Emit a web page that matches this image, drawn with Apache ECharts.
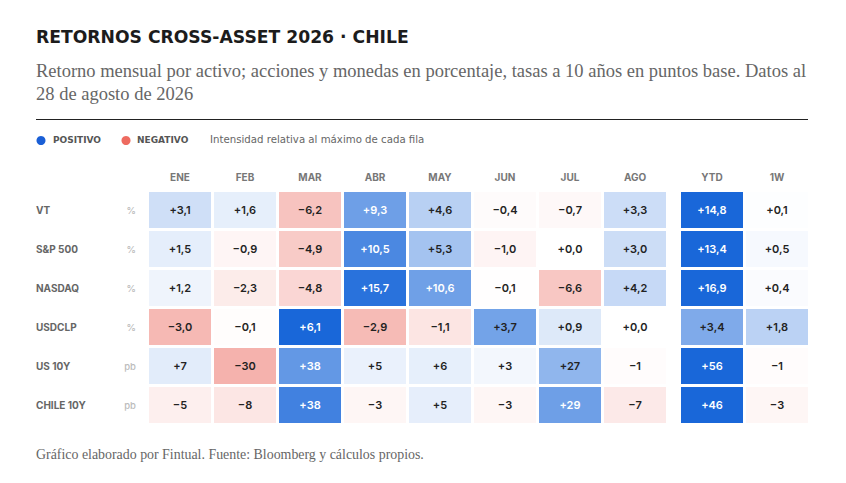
<!DOCTYPE html>
<html>
<head>
<meta charset="utf-8">
<script src="https://cdn.jsdelivr.net/npm/echarts@6/dist/echarts.min.js"></script>
<style>
  html, body { margin: 0; padding: 0; background: #fff; }
  #chart { width: 846px; height: 483px; }
</style>
</head>
<body>
<div id="chart"></div>
<script>
const months = ['ENE', 'FEB', 'MAR', 'ABR', 'MAY', 'JUN', 'JUL', 'AGO'];
const summaryCols = ['YTD', '1W'];
const assets = ['VT', 'S&P 500', 'NASDAQ', 'USDCLP', 'US 10Y', 'CHILE 10Y'];
const units = ['%', '%', '%', '%', 'pb', 'pb'];

// monthly values (ENE..AGO), then YTD and 1W
const vtMonthly = [3.1, 1.6, -6.2, 9.3, 4.6, -0.4, -0.7, 3.3];
const vtSummary = [14.8, 0.1];
const spMonthly = [1.5, -0.9, -4.9, 10.5, 5.3, -1.0, 0.0, 3.0];
const spSummary = [13.4, 0.5];
const nasdaqMonthly = [1.2, -2.3, -4.8, 15.7, 10.6, -0.1, -6.6, 4.2];
const nasdaqSummary = [16.9, 0.4];
const usdclpMonthly = [-3.0, -0.1, 6.1, -2.9, -1.1, 3.7, 0.9, 0.0];
const usdclpSummary = [3.4, 1.8];
const us10yMonthly = [7, -30, 38, 5, 6, 3, 27, -1];
const us10ySummary = [56, -1];
const chile10yMonthly = [-5, -8, 38, -3, 5, -3, 29, -7];
const chile10ySummary = [46, -3];

const monthlyRows = [vtMonthly, spMonthly, nasdaqMonthly, usdclpMonthly, us10yMonthly, chile10yMonthly];
const summaryRows = [vtSummary, spSummary, nasdaqSummary, usdclpSummary, us10ySummary, chile10ySummary];

const rowMax = monthlyRows.map((r, i) => Math.max(...r.concat(summaryRows[i]).map(Math.abs)));

const monthData = [];
monthlyRows.forEach((r, y) => r.forEach((v, x) => monthData.push([x, y, v])));
const summaryData = [];
summaryRows.forEach((r, y) => r.forEach((v, x) => summaryData.push([x, y, v])));

const BLUE = [25, 103, 217];
const RED = [236, 112, 102];
function mix(base, t) {
  const c = base.map(b => Math.round(255 - (255 - b) * t));
  return 'rgb(' + c.join(',') + ')';
}
function fmt(v, row) {
  const pb = units[row] === 'pb';
  const abs = Math.abs(v);
  const s = pb ? String(Math.round(abs)) : abs.toFixed(1).replace('.', ',');
  return (v < 0 ? '\u2212' : '+') + s;
}
function renderItem(params, api) {
  const x = api.value(0), y = api.value(1), v = api.value(2);
  const c = api.coord([x, y]);
  const s = api.size([1, 1]);
  const w = s[0] - 3, h = s[1] - 3;
  const t = Math.abs(v) / rowMax[y];
  const fill = v >= 0 ? mix(BLUE, t) : mix(RED, t);
  return {
    type: 'rect',
    shape: { x: c[0] - w / 2, y: c[1] - h / 2, width: w, height: h },
    style: { fill: fill },
    textContent: {
      style: {
        text: fmt(v, y),
        fill: t > 0.62 ? '#ffffff' : '#222222',
        fontFamily: 'Inter',
        fontWeight: 600,
        fontSize: 11
      }
    },
    textConfig: { position: 'inside' }
  };
}

const chart = echarts.init(document.getElementById('chart'), null, { renderer: 'svg' });
const labelFont = { fontFamily: 'Inter', fontWeight: 700, fontSize: 10, color: '#777' };

chart.setOption({
  backgroundColor: '#ffffff',
  animation: false,
  title: [
    { text: 'RETORNOS CROSS-ASSET 2026 \u00b7 CHILE', left: 36, top: 28, padding: 0,
      textStyle: { fontFamily: 'DejaVu Sans', fontWeight: 'bold', fontSize: 17.2, color: '#1c1c1c' } },
    { text: 'Retorno mensual por activo; acciones y monedas en porcentaje, tasas a 10 a\u00f1os en puntos base. Datos al\n28 de agosto de 2026',
      left: 36, top: 59, padding: 0,
      textStyle: { fontFamily: 'Liberation Serif', fontWeight: 'normal', fontSize: 18.5, lineHeight: 23, color: '#666' } },
    { text: 'Gr\u00e1fico elaborado por Fintual. Fuente: Bloomberg y c\u00e1lculos propios.',
      left: 36, top: 447, padding: 0,
      textStyle: { fontFamily: 'Liberation Serif', fontWeight: 'normal', fontSize: 13.9, color: '#666' } }
  ],
  graphic: [
    { type: 'line', shape: { x1: 36, y1: 119.5, x2: 808, y2: 119.5 }, style: { stroke: '#222', lineWidth: 1 } },
    { type: 'circle', shape: { cx: 41, cy: 140.5, r: 4.5 }, style: { fill: '#1a5fd6' } },
    { type: 'text', left: 53, top: 135, style: { text: 'POSITIVO', fontFamily: 'DejaVu Sans', fontWeight: 'bold', fontSize: 9, fill: '#555' } },
    { type: 'circle', shape: { cx: 126, cy: 140.5, r: 4.5 }, style: { fill: '#ee6b60' } },
    { type: 'text', left: 137, top: 135, style: { text: 'NEGATIVO', fontFamily: 'DejaVu Sans', fontWeight: 'bold', fontSize: 9, fill: '#555' } },
    { type: 'text', left: 210, top: 134.5, style: { text: 'Intensidad relativa al m\u00e1ximo de cada fila', fontFamily: 'DejaVu Sans', fontWeight: 'normal', fontSize: 10.2, fill: '#666' } }
  ],
  grid: [
    { left: 147.5, top: 190.5, width: 520, height: 234 },
    { left: 679.5, top: 190.5, width: 130, height: 234 }
  ],
  xAxis: [
    { gridIndex: 0, type: 'category', data: months, position: 'top',
      axisLine: { show: false }, axisTick: { show: false }, splitLine: { show: false },
      axisLabel: Object.assign({ margin: 9 }, labelFont) },
    { gridIndex: 1, type: 'category', data: summaryCols, position: 'top',
      axisLine: { show: false }, axisTick: { show: false }, splitLine: { show: false },
      axisLabel: Object.assign({ margin: 9 }, labelFont) }
  ],
  yAxis: [
    { gridIndex: 0, type: 'category', data: assets, inverse: true,
      axisLine: { show: false }, axisTick: { show: false }, splitLine: { show: false },
      axisLabel: { align: 'left', margin: 111.5, fontFamily: 'Inter', fontWeight: 700, fontSize: 10, color: '#666' } },
    { gridIndex: 0, type: 'category', data: assets, inverse: true, position: 'left',
      axisLine: { show: false }, axisTick: { show: false }, splitLine: { show: false },
      axisLabel: { align: 'right', margin: 11.5, fontFamily: 'Inter', fontWeight: 500, fontSize: 9.5, color: '#bbb',
        formatter: (val, idx) => units[idx] } },
    { gridIndex: 1, type: 'category', data: assets, inverse: true, show: false }
  ],
  series: [
    { type: 'custom', xAxisIndex: 0, yAxisIndex: 0, data: monthData, renderItem: renderItem },
    { type: 'custom', xAxisIndex: 1, yAxisIndex: 2, data: summaryData, renderItem: renderItem }
  ]
});
</script>
</body>
</html>
